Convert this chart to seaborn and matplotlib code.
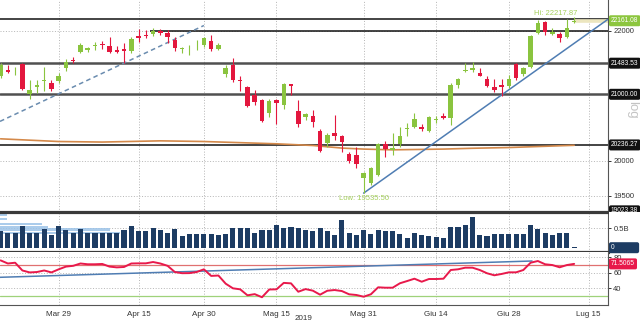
import matplotlib
matplotlib.use("Agg")
import matplotlib.pyplot as plt
import matplotlib.transforms as mtransforms
from matplotlib.ticker import FixedLocator, NullLocator, FuncFormatter
from matplotlib.patches import Rectangle
from matplotlib import font_manager as fm
import numpy as np
import pandas as pd
import seaborn as sns

sns.set_style("white")
_names = {f.name for f in fm.fontManager.ttflist}
NARROW = 'Liberation Sans Narrow' if 'Liberation Sans Narrow' in _names else 'Liberation Sans'
plt.rcParams['font.family'] = [NARROW, 'DejaVu Sans']
FS = 6.4 if NARROW == 'Liberation Sans Narrow' else 5.5
FSB = 6.0 if NARROW == 'Liberation Sans Narrow' else 4.8

# ---------------- data (trading-day index, 0 = 29 Mar 2019) ----------------
day = list(range(-8, 72))
open_ = [21286, 21370, 21355, 21472, 21005, 21114, 21200, 21174,
         21210, 21405, 21535, 21655, 21692, 21755, 21790, 21760, 21692, 21703,
         21676, 21915, 21936, 21943, 22000, 21958, 21851, 21708, 21735, 21798,
         21771, 21835, 21708, 21317, 21456, 21225, 21114, 20990, 20914, 20712,
         20914, 20838, 21159, 20752, 20652, 20662, 20446, 20268, 20421, 20362,
         20105, 20085, 19747, 19686, 19796, 20250, 20164, 20253, 20471, 20506,
         20511, 20451, 20611, 20672, 20637, 21149, 21363, 21379, 21333, 21240,
         21114, 21149, 21133, 21472, 21317, 21420, 21958, 22140, 21947, 21942,
         21894, 22145]
high = [21488, 21456, 21430, 21480, 21225, 21225, 21430, 21225,
        21337, 21546, 21587, 21798, 21735, 21827, 21840, 21894, 21755, 21798,
        21894, 22022, 22011, 22038, 22027, 22011, 21894, 21745, 21771, 21851,
        21904, 21931, 21798, 21456, 21561, 21286, 21133, 21073, 20924, 20924,
        20924, 21174, 21164, 20914, 20722, 20762, 20481, 20421, 20687, 20387,
        20125, 20213, 19844, 19908, 20263, 20292, 20411, 20511, 20561, 20712,
        20551, 20662, 20662, 20722, 21174, 21251, 21483, 21509, 21405, 21286,
        21240, 21240, 21302, 21493, 21430, 21931, 22173, 22161, 22038, 21984,
        22189, 22217.87]
low = [21256, 21333, 21302, 21060, 20929, 21027, 21047, 21047,
       21174, 21363, 21483, 21640, 21665, 21692, 21703, 21640, 21640, 21483,
       21640, 21824, 21878, 21920, 21931, 21798, 21681, 21640, 21613, 21692,
       21745, 21681, 21692, 21266, 21185, 21047, 20803, 20838, 20586, 20652,
       20551, 20772, 20990, 20501, 20611, 20511, 20135, 20213, 20312, 20125,
       19966, 19893, 19535.5, 19653, 19786, 20063, 20090, 20213, 20362, 20486,
       20451, 20436, 20571, 20621, 20541, 21098, 21353, 21353, 21276, 21114,
       21032, 20970, 21098, 21225, 21286, 21405, 21947, 21931, 21931, 21824,
       21878, 22132]
close = [21456, 21345, 21365, 21083, 21073, 21149, 21220, 21083,
         21286, 21507, 21519, 21771, 21716, 21765, 21775, 21665, 21656, 21682,
         21862, 21888, 21920, 22000, 21958, 21904, 21727, 21714, 21745, 21808,
         21878, 21708, 21771, 21405, 21225, 21210, 20823, 20879, 20600, 20899,
         20873, 21159, 21123, 20551, 20702, 20586, 20150, 20387, 20362, 20273,
         20000, 19961, 19825, 19893, 20250, 20174, 20184, 20372, 20496, 20631,
         20471, 20647, 20631, 20637, 21149, 21235, 21379, 21405, 21286, 21133,
         21063, 21114, 21240, 21251, 21405, 21915, 22129, 21984, 21984, 21878,
         22038, 22161.08]
volume_b = [0.43, 0.37, 0.37, 0.56, 0.37, 0.37, 0.48, 0.33,
            0.56, 0.45, 0.37, 0.48, 0.37, 0.37, 0.37, 0.37, 0.37, 0.46,
            0.56, 0.42, 0.42, 0.52, 0.46, 0.39, 0.48, 0.30, 0.35, 0.35,
            0.35, 0.36, 0.32, 0.36, 0.52, 0.51, 0.52, 0.37, 0.46, 0.46,
            0.59, 0.52, 0.54, 0.50, 0.46, 0.42, 0.52, 0.43, 0.33, 0.72,
            0.39, 0.32, 0.46, 0.35, 0.46, 0.43, 0.43, 0.35, 0.26, 0.37,
            0.32, 0.30, 0.28, 0.26, 0.54, 0.54, 0.59, 0.80, 0.33, 0.29,
            0.35, 0.35, 0.35, 0.35, 0.35, 0.58, 0.48, 0.37, 0.33, 0.37,
            0.37, 0.01]
rsi = [76, 72, 73, 63, 60.5, 61, 63, 60.5,
       64.5, 68, 69, 72, 71, 71, 71.4, 68, 67, 67.5,
       72, 72.2, 72.2, 73.9, 72, 69, 61, 59.5, 59.6, 61,
       64.5, 56, 56.5, 46, 40, 38.7, 31, 32.5, 28.5, 38.5,
       38.7, 47, 46.4, 35.6, 39, 37, 31.8, 36.9, 37.8, 36.5,
       32.3, 31.4, 29.2, 32.3, 41.3, 40.8, 40.8, 46.5, 49.4, 52.4,
       48.5, 52, 52, 52.4, 63.6, 64.5, 66.6, 66.6, 63.6, 59.4,
       56.8, 58.5, 60.6, 60.6, 63.6, 73, 75.2, 71, 70, 67.1,
       70, 71.5065]

ma_day = [-8, 0, 6, 14, 20, 30, 35, 39, 42, 46, 53, 57, 62, 71]
ma_val = [20327, 20287, 20279, 20297, 20287, 20253, 20228, 20190, 20175,
          20164, 20175, 20187, 20198, 20231]

trend1_day = [-8.085, 20]
trend1_val = [20588, 22084]
trend2_day = [42, 75.6]
trend2_val = [19535.5, 22180]
rsi_trend_day = [-8.085, 65.2]
rsi_trend_val = [54.2, 75.2]

levels_black = [22190, 20236.27]
levels_gray = [21483.53, 21000.00]
level_22000 = 22000
last_price = 22161.08
hi_val = 22217.87
lo_val = 19535.50

prof_level = [0.861, 0.735, 0.603, 0.533, 0.469, 0.384]
prof_len = [1.0, 1.0, 5.8, 6.6, 15.2, 16.5]
prof_h = [0.08, 0.05, 0.05, 0.05, 0.06, 0.06]

tick_pos = [0, 11, 20, 30, 42, 52, 62, 73]
tick_lab = ["Mar 29", "Apr 15", "Apr 30", "Mag 15", "Mag 31", "Giu 14", "Giu 28", "Lug 15"]

price_ticks = [19500, 20000, 22000]
vol_ticks = [0.5]
rsi_ticks = [40, 60, 80]

# ---------------- colours ----------------
GREEN = '#8ac43f'
RED = '#e3173e'
NAVY = '#1d3c63'
STEEL = '#4f7db3'
GRIDC = '#b5b5b5'

W, H = 640, 322
fig = plt.figure(figsize=(6.4, 3.22), dpi=100)
fig.patch.set_facecolor('white')


def rect(x0, y0, x1, y1):
    return [x0 / W, 1 - y1 / H, (x1 - x0) / W, (y1 - y0) / H]


ax_p = fig.add_axes(rect(0, 0, 607.7, 211.7))
ax_v = fig.add_axes(rect(0, 211.7, 607.7, 251.7))
ax_r = fig.add_axes(rect(0, 251.7, 607.7, 305))

XMIN, XMAX = -8.085, 75.62
for ax in (ax_p, ax_v, ax_r):
    ax.set_xlim(XMIN, XMAX)
    ax.set_facecolor('white')
    ax.xaxis.set_major_locator(FixedLocator(tick_pos))
    ax.xaxis.set_minor_locator(NullLocator())
    ax.grid(axis='x', color=GRIDC, lw=0.7, ls=(0, (1, 1.8)))
    for s in ('left', 'top', 'bottom'):
        ax.spines[s].set_visible(False)
    ax.spines['right'].set_color('#555555')
    ax.spines['right'].set_linewidth(0.8)
    ax.yaxis.tick_right()
    ax.tick_params(axis='y', which='both', length=2.5, width=0.7, pad=1.5,
                   labelsize=FS, colors='#333333', direction='out')
    ax.tick_params(axis='x', length=0, labelbottom=False)

# ---------------- price panel ----------------
ax_p.set_yscale('log')
ax_p.set_ylim(19271.6, 22500)
ax_p.yaxis.set_major_locator(FixedLocator(price_ticks))
ax_p.yaxis.set_minor_locator(NullLocator())
ax_p.yaxis.set_major_formatter(FuncFormatter(lambda v, p: f"{v:.0f}"))
ax_p.yaxis.set_minor_formatter(FuncFormatter(lambda v, p: ""))
ax_p.grid(axis='y', which='major', color=GRIDC, lw=0.7, ls=(0, (1, 1.8)))

for lv in levels_black:
    ax_p.axhline(lv, color='#111111', lw=1.1, zorder=2)
for lv in levels_gray:
    ax_p.axhline(lv, color='#505050', lw=1.8, zorder=2)
ax_p.hlines(level_22000, 12.6, XMAX, color='#111111', lw=1.1, zorder=2)

# moving average
sns.lineplot(x=ma_day, y=ma_val, ax=ax_p, color='#d4894a', lw=1.2, zorder=3)

# trend lines
ax_p.plot(trend1_day, trend1_val, color='#6a8caf', lw=1.1, ls=(0, (3, 2.2)), zorder=3)
ax_p.plot(trend2_day, trend2_val, color=STEEL, lw=1.1, zorder=3)

# last price band
ax_p.hlines(last_price, day[-1], XMAX, color='#ece6bf', lw=2.6, zorder=2)

# candles
df = pd.DataFrame({'day': day, 'open': open_, 'high': high, 'low': low, 'close': close})
cols = [GREEN if c >= o else RED for o, c in zip(df['open'], df['close'])]
ax_p.vlines(df['day'], df['low'], df['high'], colors=cols, lw=0.8, zorder=4)
bottoms = np.minimum(df['open'], df['close'])
heights = np.maximum(np.abs(df['close'] - df['open']), 10)
ax_p.bar(df['day'], heights, bottom=bottoms, width=0.62, color=cols, lw=0, zorder=5)

# hi / low labels
ax_p.annotate(f"Hi: {hi_val:.2f}", xy=(day[-1], hi_val), xytext=(-13.5, 2.8),
              textcoords='offset points', ha='center', va='center',
              fontsize=FS, color='#a5cf5c', zorder=6)
ax_p.annotate(f"Low: {lo_val:.2f}", xy=(day[int(np.argmin(low))], lo_val), xytext=(0, -3.8),
              textcoords='offset points', ha='center', va='center',
              fontsize=FS, color='#a5cf5c', zorder=6)

XL = 611.0 / 607.7


def rlabel(ax, y, txt, fc, tc='white'):
    tr = mtransforms.blended_transform_factory(ax.transAxes, ax.transData)
    ax.text(XL, y, txt, transform=tr, ha='left', va='center', fontsize=FSB,
            color=tc, clip_on=False, zorder=10,
            bbox=dict(boxstyle='round,pad=0.3,rounding_size=0.25', fc=fc, ec='none'))


rlabel(ax_p, last_price, f"{last_price:.2f}", '#8cc63e')
rlabel(ax_p, levels_gray[0], f"{levels_gray[0]:.2f}", '#111111')
rlabel(ax_p, levels_gray[1], f"{levels_gray[1]:.2f}", '#111111')
rlabel(ax_p, levels_black[1], f"{levels_black[1]:.2f}", '#111111')
tr_p = mtransforms.blended_transform_factory(ax_p.transAxes, ax_p.transAxes)
ax_p.text(XL, 0.004, "19023.38", transform=tr_p, ha='left', va='center', fontsize=FSB,
          color='white', clip_on=False, zorder=10,
          bbox=dict(boxstyle='round,pad=0.3', fc='#111111', ec='none'))
fig.text(632 / W, 1 - 110 / H, 'log', rotation=270, color='#c4c4c4', fontsize=9.5,
         ha='center', va='center')

# ---------------- volume panel ----------------
ax_v.set_ylim(-0.103, 0.928)
ax_v.yaxis.set_major_locator(FixedLocator(vol_ticks))
ax_v.yaxis.set_major_formatter(FuncFormatter(lambda v, p: f"{v:g}B"))
ax_v.grid(axis='y', color=GRIDC, lw=0.7, ls=(0, (1, 1.8)))
ax_v.barh(prof_level, prof_len, height=prof_h, left=XMIN, color='#9cc3e8',
          alpha=0.85, lw=0, zorder=1)
ax_v.bar(day, volume_b, width=0.7, color=NAVY, lw=0, zorder=3)
for s in ('top', 'bottom'):
    ax_v.spines[s].set_visible(True)
    ax_v.spines[s].set_color('#3a3a3a')
    ax_v.spines[s].set_linewidth(2.3)
tr_v = mtransforms.blended_transform_factory(ax_v.transAxes, ax_v.transData)
ax_v.text(XL, 0.0, "0            ", transform=tr_v, ha='left', va='center', fontsize=FSB,
          color='white', clip_on=False, zorder=10,
          bbox=dict(boxstyle='round,pad=0.3', fc=NAVY, ec='none'))

# ---------------- RSI panel ----------------
ax_r.set_ylim(18.5, 87.2)
ax_r.yaxis.set_major_locator(FixedLocator(rsi_ticks))
ax_r.yaxis.set_major_formatter(FuncFormatter(lambda v, p: f"{v:.0f}"))
ax_r.grid(axis='y', color=GRIDC, lw=0.7, ls=(0, (1, 1.8)))
ax_r.axhline(70, color='#e07070', lw=0.9, zorder=2)
ax_r.axhline(30, color='#9fd27a', lw=0.9, zorder=2)
ax_r.plot(rsi_trend_day, rsi_trend_val, color=STEEL, lw=1.1, zorder=3)
sns.lineplot(x=day, y=rsi, ax=ax_r, color='#e8194b', lw=1.4, zorder=4)
rlabel(ax_r, rsi[-1], f"{rsi[-1]:.4f}", '#e8194b')
ax_r.spines['bottom'].set_visible(True)
ax_r.spines['bottom'].set_color('#555555')
ax_r.spines['bottom'].set_linewidth(0.8)
ax_r.set_xticks(tick_pos)
ax_r.set_xticklabels(tick_lab)
ax_r.tick_params(axis='x', length=2.5, width=0.7, pad=1.5, labelsize=FS + 0.3,
                 colors='#333333', labelbottom=True, direction='out')

for ax in (ax_p, ax_v, ax_r):
    ax.set_xlabel('')
    ax.set_ylabel('')

fig.text(304 / W, 1 - 318 / H, '2019', ha='center', va='center', fontsize=FS + 0.3, color='#333333')

# hide lower half of the clipped bottom price label
fig.patches.append(Rectangle((608.5 / W, 1 - 221 / H), 32 / W, 8.6 / H,
                             transform=fig.transFigure, fc='white', ec='none', zorder=5))

fig.savefig('out.png', dpi=100, facecolor='white')
